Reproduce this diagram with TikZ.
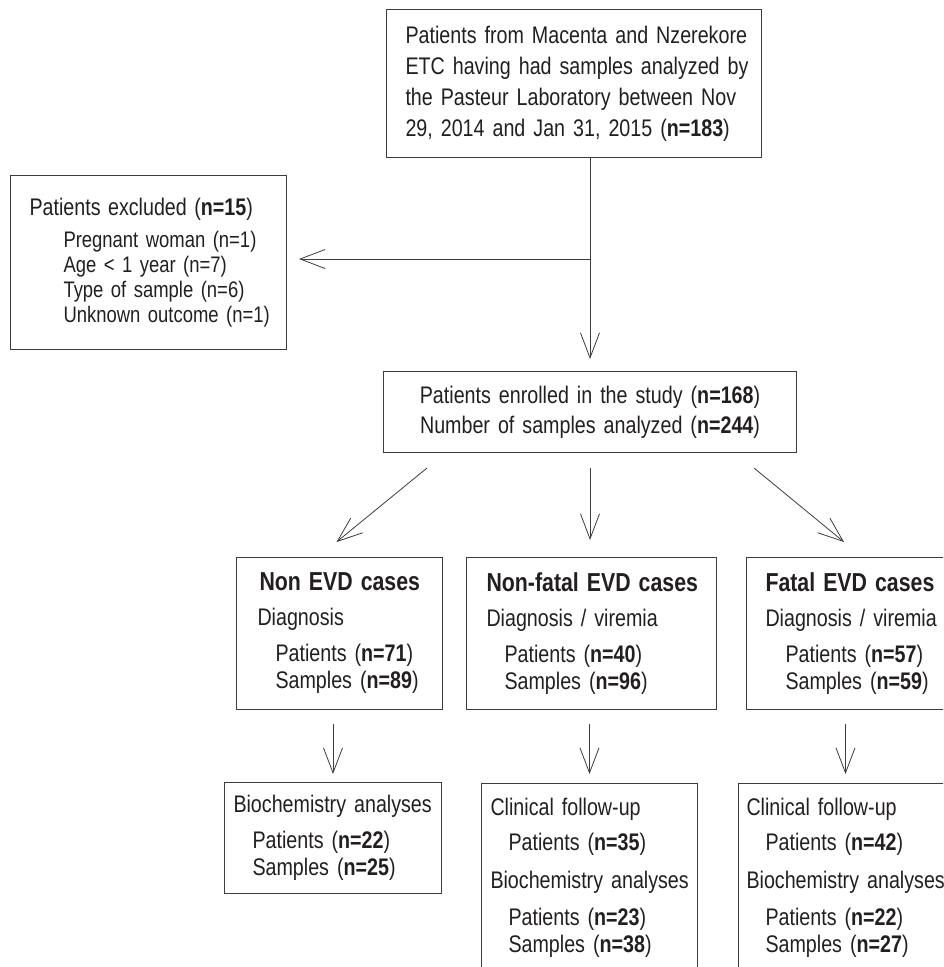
\documentclass[tikz,border=0pt]{standalone}
\usepackage{fontspec}
\setmainfont{Liberation Sans}[FakeStretch=0.82]
\usetikzlibrary{arrows.meta,positioning}
\definecolor{boxline}{RGB}{60,60,60}
\definecolor{boxtext}{RGB}{35,31,32}
\newcommand{\nval}[1]{(\textbf{n=#1})}
\newcommand{\indby}[1]{\hspace*{#1pt}}
\tikzset{
  flowbox/.style={draw=boxline, line width=1pt, rectangle, anchor=north west,
    inner xsep=0pt, inner ysep=0pt, align=left, text=boxtext,
    font=\fontsize{24}{27}\selectfont},
  flowarrow/.style={draw=boxline, line width=0.8pt,
    -{Straight Barb[length=25pt,width=19pt]}}
}

\begin{document}
\begin{tikzpicture}[x=1pt,y=-1pt]
    \clip (0,0) rectangle (943,967);

    % Screening and exclusion
    \node[flowbox, text width=375pt, minimum width=375pt, minimum height=148pt,
      font=\fontsize{24}{31}\selectfont] (screened) at (386,9)
      {\indby{19}Patients from Macenta and Nzerekore\\
       \indby{19}ETC having had samples analyzed by\\
       \indby{19}the Pasteur Laboratory between Nov\\
       \indby{19}29, 2014 and Jan 31, 2015 \nval{183}};

    \node[flowbox, text width=276pt, minimum width=276pt, minimum height=174pt,
      font=\fontsize{22.5}{25}\selectfont] (excluded) at (10,175)
      {\indby{19}{\fontsize{24}{25}\selectfont Patients excluded \nval{15}}\\[7pt]
       \indby{53}Pregnant woman (n=1)\\
       \indby{53}Age < 1 year (n=7)\\
       \indby{53}Type of sample (n=6)\\
       \indby{53}Unknown outcome (n=1)};

    \node[flowbox, align=center, text width=413pt, minimum width=413pt, minimum height=81pt,
      font=\fontsize{24}{30}\selectfont] (enrolled) at (383,371)
      {Patients enrolled in the study \nval{168}\\
       Number of samples analyzed \nval{244}};

    % Case groups
    \node[flowbox, text width=206pt, minimum width=206pt, minimum height=152pt] (nonevd) at (236,557)
      {\indby{23}{\fontsize{26}{27}\selectfont\bfseries Non EVD cases}\\[8pt]
       \indby{21}Diagnosis\\[9pt]
       \indby{39}Patients \nval{71}\\
       \indby{39}Samples \nval{89}};

    \node[flowbox, text width=250pt, minimum width=250pt, minimum height=152pt] (nonfatal) at (466,557)
      {\indby{20}{\fontsize{26}{27}\selectfont\bfseries Non-fatal EVD cases}\\[8pt]
       \indby{20}Diagnosis / viremia\\[9pt]
       \indby{38}Patients \nval{40}\\
       \indby{38}Samples \nval{96}};

    \node[flowbox, text width=198pt, minimum width=198pt, minimum height=152pt] (fatal) at (746,557)
      {\indby{19}{\fontsize{26}{27}\selectfont\bfseries Fatal EVD cases}\\[8pt]
       \indby{19}Diagnosis / viremia\\[9pt]
       \indby{39}Patients \nval{57}\\
       \indby{39}Samples \nval{59}};

    % Follow-up
    \node[flowbox, text width=217pt, minimum width=217pt, minimum height=111pt] (bioone) at (224,782)
      {\indby{9}Biochemistry analyses\\[9pt]
       \indby{28}Patients \nval{22}\\
       \indby{28}Samples \nval{25}};

    \node[flowbox, text width=216pt, minimum width=216pt, minimum height=189pt] (biotwo) at (481,783)
      {\indby{9}Clinical follow-up\\[8pt]
       \indby{27}Patients \nval{35}\\[11pt]
       \indby{9}Biochemistry analyses\\[10pt]
       \indby{27}Patients \nval{23}\\
       \indby{27}Samples \nval{38}};

    \node[flowbox, text width=214pt, minimum width=214pt, minimum height=189pt] (biothree) at (738,783)
      {\indby{8}Clinical follow-up\\[8pt]
       \indby{27}Patients \nval{42}\\[11pt]
       \indby{8}Biochemistry analyses\\[10pt]
       \indby{27}Patients \nval{22}\\
       \indby{27}Samples \nval{27}};

    % Arrows
    \coordinate (split) at (589.5,259);
    \draw[flowarrow, shorten >=12pt] (screened.south -| enrolled.north) -- (enrolled.north);
    \draw[flowarrow, shorten >=12pt] (split) -- (split -| excluded.east);

    \draw[flowarrow] ([xshift=-163pt,yshift=-15pt]enrolled.south) -- ([xshift=-3pt,yshift=15pt]nonevd.north);
    \draw[flowarrow, shorten <=15pt, shorten >=17pt] (enrolled.south) -- (enrolled.south |- nonfatal.north);
    \draw[flowarrow] ([xshift=164pt,yshift=-15pt]enrolled.south) -- ([xshift=98pt,yshift=15pt]fatal.north west);

    \draw[flowarrow, shorten <=14pt, shorten >=8pt] (nonevd.south -| bioone.north) -- (bioone.north);
    \draw[flowarrow, shorten <=14pt, shorten >=9pt] (nonfatal.south -| biotwo.north) -- (biotwo.north);
    \draw[flowarrow, shorten <=14pt, shorten >=9pt] (fatal.south -| biothree.north) -- (biothree.north);
\end{tikzpicture}
\end{document}
